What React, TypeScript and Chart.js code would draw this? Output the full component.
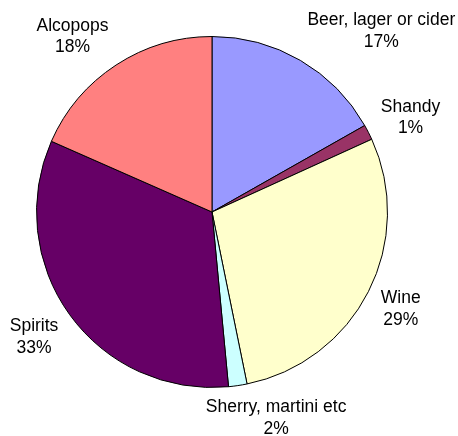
import React, { useEffect, useRef } from 'react';
import { Chart, registerables } from 'chart.js';

Chart.register(...registerables);

const categories = ['Beer, lager or cider', 'Shandy', 'Wine', 'Sherry, martini etc', 'Spirits', 'Alcopops'];
const shares = [16.8, 1.4, 28.6, 1.7, 33.1, 18.4];
const sliceColors = ['#9999FF', '#993366', '#FFFFCC', '#CCFFFF', '#660066', '#FF8080'];

const FONT = '17.5px "Liberation Sans", Arial, sans-serif';
const LINE_H = 21.5;
const GAP = 14;

const outsideLabels = {
  id: 'outsideLabels',
  afterDatasetsDraw(chart: any) {
    const ctx = chart.ctx as CanvasRenderingContext2D;
    const meta = chart.getDatasetMeta(0);
    const data = chart.data.datasets[0].data as number[];
    const total = data.reduce((a, b) => a + b, 0);
    ctx.save();
    ctx.font = FONT;
    ctx.fillStyle = '#000000';
    ctx.textAlign = 'center';
    ctx.textBaseline = 'middle';
    meta.data.forEach((arc: any, i: number) => {
      const { x, y, startAngle, endAngle, outerRadius } = arc.getProps(
        ['x', 'y', 'startAngle', 'endAngle', 'outerRadius'],
        true
      );
      const mid = (startAngle + endAngle) / 2;
      const dx = Math.cos(mid);
      const dy = Math.sin(mid);
      const lines = [String(chart.data.labels[i]), Math.round((data[i] / total) * 100) + '%'];
      const w = Math.max(...lines.map((l) => ctx.measureText(l).width));
      const h = lines.length * LINE_H;
      const ax = x + (outerRadius + GAP) * dx;
      const ay = y + (outerRadius + GAP) * dy;
      const cx = ax + (w / 2) * Math.max(-1, Math.min(1, 3.5 * dx));
      let cy = ay + (h / 2) * dy + 1.5;
      // keep the label box inside the canvas (with the small slack the reference shows)
      cy = Math.min(cy, chart.height - h / 2 + 3.5);
      lines.forEach((l, k) => ctx.fillText(l, cx, cy - h / 2 + LINE_H * (k + 0.5)));
    });
    ctx.restore();
  },
};

export default function App() {
  const canvasRef = useRef<HTMLCanvasElement | null>(null);

  useEffect(() => {
    if (!canvasRef.current) return;
    const chart = new Chart(canvasRef.current, {
      type: 'pie',
      data: {
        labels: categories,
        datasets: [
          {
            data: shares,
            backgroundColor: sliceColors,
            borderColor: '#000000',
            borderWidth: 1,
          },
        ],
      },
      options: {
        responsive: false,
        animation: false,
        layout: { padding: { left: 36, top: 36, right: 70, bottom: 48 } },
        plugins: {
          legend: { display: false },
          tooltip: { enabled: false },
        },
      },
      plugins: [outsideLabels],
    });
    return () => chart.destroy();
  }, []);

  return (
    <div style={{ position: 'fixed', left: 0, top: 0, width: 458, height: 436, background: '#fff' }}>
      <canvas ref={canvasRef} width={458} height={436} style={{ display: 'block' }} />
    </div>
  );
}
